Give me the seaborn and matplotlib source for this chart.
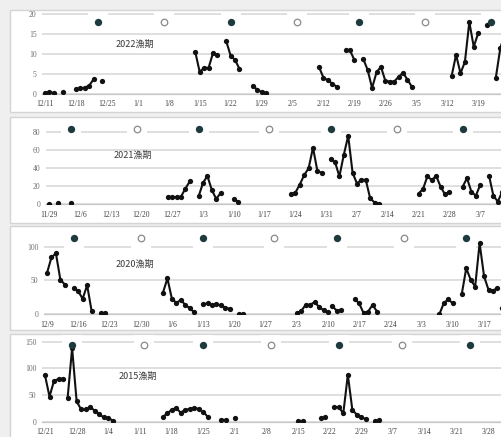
import numpy as np
import pandas as pd
import seaborn as sns
import matplotlib.pyplot as plt
import matplotlib.dates as mdates
from matplotlib.patches import Rectangle

# catch per day, one list per unbroken run: (first day, values)
season_2022 = [
    ("2022-12-11", [0.3, 0.4, 0.3]),
    ("2022-12-15", [0.6]),
    ("2022-12-18", [1.2, 1.4, 1.6, 2.1, 3.7]),
    ("2022-12-24", [3.2]),
    ("2023-01-14", [10.5, 5.5, 6.6, 6.5, 10.2, 9.7]),
    ("2023-01-21", [13.2, 9.6, 8.5, 6.3]),
    ("2023-01-27", [2.1, 1.1, 0.5, 0.2]),
    ("2023-02-11", [6.7, 4.1, 3.4, 2.6, 1.8]),
    ("2023-02-17", [10.9, 10.9, 8.5]),
    ("2023-02-21", [8.8, 6.0, 1.5, 5.4, 6.8, 3.3, 3.1, 3.1, 4.3, 5.3, 3.6, 1.8]),
    ("2023-03-13", [4.5, 9.8, 5.2, 8.0, 18.0, 11.8, 15.2]),
    ("2023-03-21", [17.2, 17.8]),
    ("2023-03-23", [4.1, 11.4, 15.0]),
]
season_2021 = [
    ("2021-11-29", [0.3]),
    ("2021-12-01", [1.2]),
    ("2021-12-04", [1.8]),
    ("2021-12-26", [8.5, 8.0, 7.8, 8.5, 17.5, 25.5]),
    ("2022-01-02", [8.7, 23.8, 31.5, 16.0, 6.0, 12.5]),
    ("2022-01-10", [6.0, 2.5]),
    ("2022-01-23", [11.0, 13.0, 22.0, 32.5, 40.0, 63.0, 37.0, 35.0]),
    ("2022-02-01", [50.0, 47.0, 31.0, 55.0, 76.0, 35.0, 23.0, 27.5, 27.0, 6.5, 2.0, 0.5]),
    ("2022-02-21", [12.0, 17.0, 31.0, 27.0, 31.5, 19.5, 11.0, 14.0]),
    ("2022-03-03", [19.5, 29.0, 14.0, 9.5, 21.5]),
    ("2022-03-09", [32.0, 9.5, 3.0, 14.0, 20.0]),
]
season_2020 = [
    ("2020-12-09", [61, 84, 90, 51, 44]),
    ("2020-12-15", [39, 34, 23, 43, 5]),
    ("2020-12-21", [1.5, 1.5]),
    ("2021-01-04", [32, 53, 23, 17, 21, 14, 9, 3]),
    ("2021-01-13", [15, 16, 14, 15, 13, 10, 8]),
    ("2021-01-21", [1, 1]),
    ("2021-02-03", [1.5, 5, 14, 14, 18, 11, 6, 3]),
    ("2021-02-11", [12, 5, 6.5]),
    ("2021-02-16", [22.5, 16, 1.5, 4, 14, 4]),
    ("2021-03-07", [0.5, 17, 22, 16]),
    ("2021-03-12", [30, 68, 51, 41, 105, 56, 36, 35, 39]),
    ("2021-03-21", [9, 10]),
]
season_2015 = [
    ("2015-12-21", [87, 47, 77, 80, 81]),
    ("2015-12-26", [44, 138, 38, 23, 23, 27, 21, 14, 8, 7, 2]),
    ("2016-01-16", [8, 15.5, 22, 26, 17, 22, 24, 26, 24]),
    ("2016-01-25", [19, 9]),
    ("2016-01-29", [4, 3]),
    ("2016-02-01", [7.5]),
    ("2016-02-15", [2, 2]),
    ("2016-02-20", [7, 8]),
    ("2016-02-23", [28, 27, 16, 88, 22, 13, 8, 5]),
    ("2016-03-03", [0.5, 2.5]),
]

# moon phase dates (filled = 1, open = 0)
moon_2022 = ["2022-12-23", "2023-01-07", "2023-01-22", "2023-02-06", "2023-02-20", "2023-03-07", "2023-03-22"]
moon_2021 = ["2021-12-04", "2021-12-19", "2022-01-02", "2022-01-18", "2022-02-01", "2022-02-16", "2022-03-03"]
moon_2020 = ["2020-12-15", "2020-12-30", "2021-01-13", "2021-01-29", "2021-02-12", "2021-02-27", "2021-03-13"]
moon_2015 = ["2015-12-27", "2016-01-12", "2016-01-25", "2016-02-09", "2016-02-24", "2016-03-09", "2016-03-24"]
moon_fill = [1, 0, 1, 0, 1, 0, 1]

titles = ["2022漁期", "2021漁期", "2020漁期", "2015漁期"]
first_ticks = ["2022-12-11", "2021-11-29", "2020-12-09", "2015-12-21"]
yticks = [[0, 5, 10, 15, 20], [0, 20, 40, 60, 80], [0, 50, 100], [0, 50, 100, 150]]

# layout in pixels: box top/bottom, y of zero, px per unit, y top value,
# px of first tick, px per day, moon marker level, title position
layout = [
    dict(box=(10, 112), y0=94.0, k=4.0, top=20.5, x0=45, kd=4.42, moon=18, title=(135, 44)),
    dict(box=(117, 223), y0=204.3, k=0.9, top=88, x0=49, kd=4.40, moon=84, title=(133, 155)),
    dict(box=(226, 330), y0=314.3, k=0.677, top=118, x0=47, kd=4.46, moon=112, title=(135, 264)),
    dict(box=(334, 460), y0=421.7, k=0.533, top=155, x0=45, kd=4.52, moon=144, title=(138, 376)),
]

seasons = [season_2022, season_2021, season_2020, season_2015]
moons = [moon_2022, moon_2021, moon_2020, moon_2015]

W, H = 502, 437
sns.set_style("white")
plt.rcParams['font.family'] = ['Liberation Serif', 'DejaVu Serif']

fig = plt.figure(figsize=(W / 100, H / 100), dpi=100)
fig.patch.set_facecolor('#efefef')

for i in range(4):
    lay = layout[i]
    b0, b1 = lay['box']
    fig.patches.append(Rectangle((10 / W, 1 - b1 / H), 700 / W, (b1 - b0) / H,
                                 transform=fig.transFigure, facecolor='white',
                                 edgecolor='#d4d4d4', lw=1, zorder=-5))

    left_px = lay['x0'] - 3
    right_px = 600
    top_px = lay['y0'] - lay['top'] * lay['k']
    ax = fig.add_axes([left_px / W, 1 - lay['y0'] / H,
                       (right_px - left_px) / W, (lay['y0'] - top_px) / H])
    ax.set_facecolor('none')
    ax.set_zorder(2)

    # build long table with a segment id per unbroken run
    rows = []
    for s, (start, vals) in enumerate(seasons[i]):
        days = pd.date_range(start, periods=len(vals), freq='D')
        for d, v in zip(days, vals):
            rows.append((d, v, s))
    df = pd.DataFrame(rows, columns=['date', 'catch', 'seg'])

    mdf = pd.DataFrame({'date': pd.to_datetime(moons[i]), 'fill': moon_fill})
    mdf['y'] = lay['moon']

    # white boxes behind moon markers (break the top gridline)
    sns.scatterplot(data=mdf, x='date', y='y', marker='s', s=190, color='white',
                    linewidth=0, zorder=1.5, clip_on=False, ax=ax, legend=False)
    sns.lineplot(data=df, x='date', y='catch', units='seg', estimator=None,
                 color='#111111', lw=1.5, marker='o', markersize=3.8,
                 markeredgewidth=0, zorder=3, ax=ax, legend=False)
    sns.scatterplot(data=mdf[mdf['fill'] == 1], x='date', y='y', s=28, color='#1d3b3e',
                    linewidth=0, zorder=4, clip_on=False, ax=ax, legend=False)
    sns.scatterplot(data=mdf[mdf['fill'] == 0], x='date', y='y', s=22, color='white',
                    edgecolor='#8a8a8a', linewidth=0.9, zorder=4, clip_on=False,
                    ax=ax, legend=False)

    t0 = mdates.date2num(pd.Timestamp(first_ticks[i]))
    ax.set_xlim(t0 + (left_px - lay['x0']) / lay['kd'],
                t0 + (right_px - lay['x0']) / lay['kd'])
    ax.set_ylim(0, lay['top'])

    # weekly ticks, only those whose label fits in the picture
    ticks = pd.date_range(first_ticks[i], periods=18, freq='7D')
    ticks = [d for d in ticks
             if lay['x0'] + (mdates.date2num(d) - t0) * lay['kd'] < 492]
    ax.set_xticks(mdates.date2num(ticks))
    ax.set_xticklabels([f"{d.month}/{d.day}" for d in ticks])
    ax.set_yticks(yticks[i])
    ax.set_yticklabels([str(v) for v in yticks[i]])

    ax.grid(axis='y', color='#d9d9d9', lw=1.2)
    ax.grid(axis='x', visible=False)
    ax.set_axisbelow(True)
    for side in ['top', 'right', 'left']:
        ax.spines[side].set_visible(False)
    ax.spines['bottom'].set_color('#c8c8c8')
    ax.spines['bottom'].set_linewidth(0.9)
    ax.tick_params(axis='x', direction='out', length=2.5, width=0.8, color='#c8c8c8',
                   labelsize=5.5, labelcolor='#404040', pad=2)
    ax.tick_params(axis='y', length=0, labelsize=5.5, labelcolor='#6f6f6f', pad=4)
    ax.set_xlabel('')
    ax.set_ylabel('')

    tx, ty = lay['title']
    fig.text(tx / W, 1 - ty / H, titles[i], ha='center', va='center', fontsize=6.5,
             color='#3a3a3a', family=['Noto Sans CJK JP', 'DejaVu Sans'], zorder=5)

fig.savefig('out.png', dpi=100, facecolor=fig.get_facecolor())
